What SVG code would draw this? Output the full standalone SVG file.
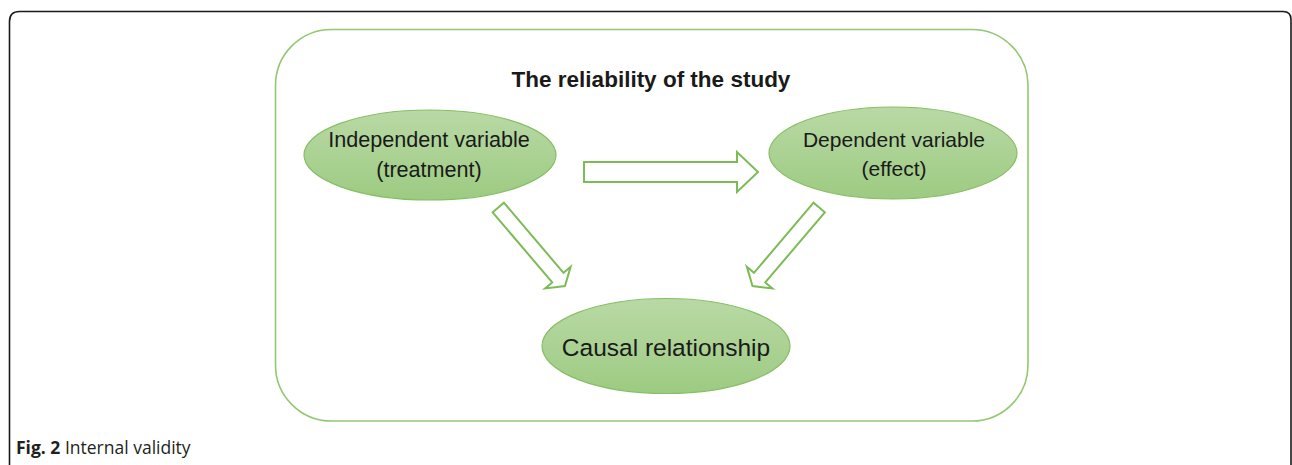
<svg xmlns="http://www.w3.org/2000/svg" width="1292" height="465" viewBox="0 0 1292 465">
<defs>
<linearGradient id="eg" x1="0" y1="0" x2="0" y2="1">
<stop offset="0" stop-color="#b9d9a5"/>
<stop offset="1" stop-color="#9dcb82"/>
</linearGradient>
</defs>
<style>
.node ellipse{fill:url(#eg);stroke:#86bf63;stroke-width:1.2}
.lbl{font-family:"Liberation Sans",Arial,sans-serif;font-size:21px;fill:#1a1a1a;text-anchor:middle}
.arrow{fill:#ffffff;stroke:#7cbb55;stroke-width:2;stroke-linejoin:miter}
.cap{font-family:"Open Sans","Liberation Sans",sans-serif;font-size:17.5px;fill:#231f20}
</style>
<rect width="1292" height="465" fill="#ffffff"/>
<path d="M9.5,466 V21.5 Q9.5,11.5 19.5,11.5 H1283 Q1291,11.5 1291,19.5 V466" fill="none" stroke="#1a1a1a" stroke-width="1.6"/>
<g id="frame">
<rect x="275.5" y="29.5" width="752.5" height="391.5" rx="56" ry="56" fill="none" stroke="#92c870" stroke-width="1.6"/>
<text x="651" y="87" font-family="'Liberation Sans',Arial,sans-serif" font-size="22.5" font-weight="bold" fill="#1a1a1a" text-anchor="middle">The reliability of the study</text>
</g>
<g id="connectors">
<path class="arrow" d="M584,162 H737 V152 L758,172 L737,192 V182 H584 Z"/>
<path class="arrow" transform="translate(498.3,207.5) rotate(49.65)" d="M0,-7.4 H92 V-16.7 L103,0 L92,16.7 V7.4 H0 Z"/>
<path class="arrow" transform="translate(819.2,207.5) rotate(130.35)" d="M0,-7.4 H92 V-16.7 L103,0 L92,16.7 V7.4 H0 Z"/>
</g>
<g id="independent" class="node">
<ellipse cx="430" cy="155" rx="126" ry="45"/>
<text class="lbl" x="429" y="147" style="font-size:21.6px">Independent variable</text>
<text class="lbl" x="429" y="177" style="font-size:21.6px">(treatment)</text>
</g>
<g id="dependent" class="node">
<ellipse cx="893" cy="153" rx="124" ry="46"/>
<text class="lbl" x="894" y="147">Dependent variable</text>
<text class="lbl" x="894" y="176">(effect)</text>
</g>
<g id="causal" class="node">
<ellipse cx="666" cy="346" rx="124" ry="47.5"/>
<text class="lbl" x="666" y="356" style="font-size:24.5px">Causal relationship</text>
</g>
<text class="cap" x="16" y="454"><tspan font-weight="bold">Fig. 2</tspan> Internal validity</text>
</svg>
